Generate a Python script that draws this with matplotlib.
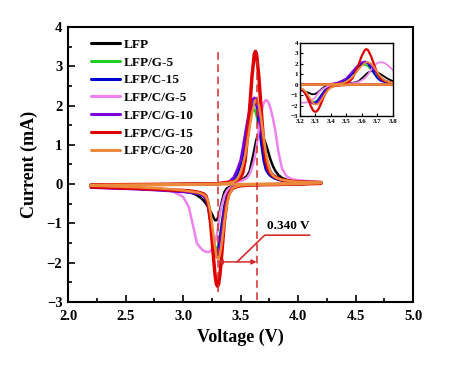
import matplotlib
matplotlib.use("Agg")
import matplotlib.pyplot as plt
from matplotlib.ticker import MultipleLocator, FormatStrFormatter

# ---------------- data ----------------
labels = ["LFP", "LFP/G-5", "LFP/C-15", "LFP/C/G-5", "LFP/C/G-10", "LFP/C/G-15", "LFP/C/G-20"]
colors = ["#000000", "#22cc22", "#0000d0", "#ee82ee", "#7a00dc", "#e00000", "#ec8a3c"]

v_anodic = [2.20, 2.60, 3.00, 3.30, 3.40, 3.44, 3.47, 3.50, 3.52, 3.54, 3.56, 3.58, 3.60, 3.62,
            3.63, 3.64, 3.66, 3.68, 3.70, 3.72, 3.74, 3.76, 3.78, 3.80, 3.83, 3.86, 3.90, 3.95,
            4.00, 4.10, 4.20]
v_cathodic = [4.20, 4.00, 3.80, 3.60, 3.50, 3.46, 3.43, 3.40, 3.38, 3.36, 3.34, 3.33, 3.32, 3.31,
              3.30, 3.29, 3.28, 3.27, 3.26, 3.24, 3.22, 3.20, 3.18, 3.15, 3.12, 3.10, 3.05, 3.00,
              2.90, 2.80, 2.60, 2.40, 2.20]

i_anodic_lfp = [-0.02, -0.01, 0.00, 0.00, 0.02, 0.05, 0.09, 0.11, 0.12, 0.17, 0.22, 0.33, 0.60, 0.87,
                1.02, 1.15, 1.29, 1.28, 1.18, 1.02, 0.83, 0.63, 0.47, 0.35, 0.23, 0.16, 0.11, 0.08,
                0.07, 0.05, 0.04]
i_anodic_g5 = [-0.02, -0.01, 0.00, 0.01, 0.04, 0.11, 0.25, 0.52, 0.75, 1.07, 1.39, 1.68, 1.86, 1.90,
               1.84, 1.74, 1.43, 1.09, 0.76, 0.51, 0.34, 0.25, 0.20, 0.16, 0.13, 0.10, 0.08, 0.07,
               0.06, 0.05, 0.05]
i_anodic_c15 = [-0.02, -0.01, 0.00, 0.01, 0.04, 0.12, 0.24, 0.49, 0.72, 1.05, 1.40, 1.73, 1.97, 2.09,
                2.10, 1.99, 1.55, 1.05, 0.62, 0.37, 0.27, 0.21, 0.17, 0.14, 0.11, 0.09, 0.08, 0.06,
                0.05, 0.05, 0.04]
i_anodic_cg5 = [-0.02, -0.01, 0.00, 0.01, 0.02, 0.04, 0.06, 0.08, 0.10, 0.13, 0.17, 0.26, 0.42, 0.62,
                0.78, 0.96, 1.42, 1.80, 2.06, 2.14, 2.10, 1.94, 1.70, 1.40, 0.82, 0.40, 0.20, 0.12,
                0.10, 0.07, 0.05]
i_anodic_cg10 = [-0.02, -0.01, 0.00, 0.01, 0.06, 0.17, 0.36, 0.60, 0.92, 1.27, 1.61, 1.91, 2.13, 2.20,
                 2.17, 2.09, 1.78, 1.40, 1.01, 0.70, 0.50, 0.33, 0.24, 0.20, 0.16, 0.12, 0.08, 0.07,
                 0.06, 0.05, 0.05]
i_anodic_cg15 = [-0.02, -0.01, 0.00, 0.01, 0.05, 0.06, 0.10, 0.15, 0.30, 0.60, 1.20, 1.95, 2.75, 3.31,
                 3.38, 3.30, 2.71, 1.88, 1.10, 0.60, 0.38, 0.28, 0.22, 0.18, 0.14, 0.11, 0.09, 0.07,
                 0.06, 0.05, 0.04]
i_anodic_cg20 = [-0.02, -0.01, 0.00, 0.01, 0.03, 0.06, 0.12, 0.29, 0.49, 0.73, 1.07, 1.46, 1.80, 2.06,
                 2.13, 2.15, 2.01, 1.65, 1.21, 0.81, 0.51, 0.32, 0.23, 0.18, 0.14, 0.11, 0.09, 0.07,
                 0.06, 0.05, 0.04]

i_cathodic_lfp = [0.02, 0.00, -0.01, -0.02, -0.03, -0.04, -0.05, -0.08, -0.11, -0.20, -0.42, -0.55,
                  -0.68, -0.80, -0.88, -0.92, -0.92, -0.88, -0.81, -0.70, -0.60, -0.50, -0.42, -0.34,
                  -0.28, -0.25, -0.20, -0.18, -0.15, -0.13, -0.10, -0.08, -0.07]
i_cathodic_g5 = [0.03, 0.00, -0.01, -0.02, -0.03, -0.05, -0.07, -0.16, -0.29, -0.54, -0.93, -1.13,
                 -1.34, -1.51, -1.61, -1.65, -1.62, -1.51, -1.34, -0.93, -0.57, -0.38, -0.30, -0.25,
                 -0.23, -0.22, -0.20, -0.18, -0.16, -0.14, -0.11, -0.09, -0.07]
i_cathodic_c15 = [0.03, 0.00, -0.01, -0.02, -0.03, -0.05, -0.07, -0.17, -0.30, -0.57, -0.98, -1.20,
                  -1.42, -1.60, -1.71, -1.75, -1.72, -1.60, -1.42, -0.98, -0.60, -0.40, -0.31, -0.26,
                  -0.24, -0.23, -0.21, -0.19, -0.17, -0.15, -0.12, -0.10, -0.08]
i_cathodic_cg5 = [0.03, 0.00, -0.01, -0.02, -0.03, -0.04, -0.06, -0.11, -0.18, -0.30, -0.50, -0.62,
                  -0.78, -0.98, -1.20, -1.34, -1.45, -1.55, -1.62, -1.70, -1.73, -1.72, -1.70, -1.62,
                  -1.50, -1.22, -0.58, -0.32, -0.17, -0.13, -0.09, -0.07, -0.05]
i_cathodic_cg10 = [0.03, 0.00, -0.01, -0.02, -0.03, -0.05, -0.08, -0.22, -0.39, -0.72, -1.16, -1.39,
                   -1.60, -1.76, -1.84, -1.84, -1.79, -1.61, -1.41, -0.94, -0.57, -0.38, -0.30, -0.26,
                   -0.24, -0.23, -0.21, -0.20, -0.18, -0.16, -0.13, -0.11, -0.09]
i_cathodic_cg15 = [0.02, 0.00, -0.01, -0.02, -0.04, -0.07, -0.11, -0.24, -0.47, -0.96, -1.66, -2.02,
                   -2.33, -2.54, -2.60, -2.54, -2.35, -2.04, -1.68, -0.99, -0.52, -0.30, -0.25, -0.22,
                   -0.20, -0.19, -0.17, -0.16, -0.15, -0.13, -0.11, -0.09, -0.07]
i_cathodic_cg20 = [0.03, 0.00, -0.01, -0.02, -0.03, -0.06, -0.10, -0.29, -0.55, -0.96, -1.43, -1.64,
                   -1.80, -1.89, -1.89, -1.84, -1.65, -1.44, -1.19, -0.74, -0.45, -0.32, -0.27, -0.23,
                   -0.21, -0.20, -0.18, -0.16, -0.13, -0.11, -0.08, -0.06, -0.04]

# flat orange baseline running across the whole window
v_flat = [2.20, 3.00, 3.50, 4.20]
i_flat = [-0.04, -0.02, 0.00, 0.03]

anodic = [i_anodic_lfp, i_anodic_g5, i_anodic_c15, i_anodic_cg5, i_anodic_cg10, i_anodic_cg15, i_anodic_cg20]
cathodic = [i_cathodic_lfp, i_cathodic_g5, i_cathodic_c15, i_cathodic_cg5, i_cathodic_cg10,
            i_cathodic_cg15, i_cathodic_cg20]
widths = [1.8, 1.8, 1.8, 1.8, 1.8, 2.5, 1.8]

# annotation values
v_red_ox = 3.64
v_red_red = 3.30
gap_label = "0.340 V"

# ---------------- figure ----------------
plt.rcParams['font.family'] = ['Liberation Serif', 'DejaVu Serif']
plt.rcParams['font.weight'] = 'bold'

fig = plt.figure(figsize=(4.51, 3.69), dpi=100)
ax = fig.add_axes([0.1508, 0.1816, 0.765, 0.7453])

for lab, col, ia, ic, lw in zip(labels, colors, anodic, cathodic, widths):
    ax.plot(v_anodic + v_cathodic, ia + ic, color=col, lw=lw, label=lab,
            solid_joinstyle='round', solid_capstyle='round')
ax.plot(v_flat, i_flat, color=colors[6], lw=1.8)

ax.set_xlim(2.0, 5.0)
ax.set_ylim(-3, 4)
ax.xaxis.set_major_locator(MultipleLocator(0.5))
ax.xaxis.set_minor_locator(MultipleLocator(0.25))
ax.yaxis.set_major_locator(MultipleLocator(1))
ax.yaxis.set_minor_locator(MultipleLocator(0.5))
ax.xaxis.set_major_formatter(FormatStrFormatter('%.1f'))
ax.tick_params(which='both', direction='in', top=False, right=False, width=1.2)
ax.tick_params(which='major', length=5, labelsize=10.5)
ax.tick_params(axis='x', which='major', pad=6)
ax.tick_params(axis='y', which='major', pad=4)
ax.tick_params(which='minor', length=3)
for s in ax.spines.values():
    s.set_linewidth(1.5)
ax.set_xlabel("Voltage (V)", fontsize=13, fontweight='bold', labelpad=4)
ax.set_ylabel("Current (mA)", fontsize=13, fontweight='bold', labelpad=6)

# dashed guides, arrow and label
red_ann = "#d42a2a"
ax.plot([v_red_red, v_red_red], [-2.75, 3.4], color=red_ann, lw=1.1, ls=(0, (5, 3)))
ax.plot([v_red_ox, v_red_ox], [-2.95, 3.3], color=red_ann, lw=1.1, ls=(0, (5, 3)))
ax.annotate("", xy=(v_red_red, -1.98), xytext=(v_red_ox, -1.98),
            arrowprops=dict(arrowstyle='<|-|>', color=red_ann, lw=1.1, mutation_scale=7,
                            shrinkA=0, shrinkB=0))
ax.plot([3.47, 3.71, 4.10], [-1.98, -1.30, -1.30], color=red_ann, lw=1.2)
ax.text(3.73, -1.22, gap_label, fontsize=9.5, fontweight='bold', ha='left', va='bottom')

leg = ax.legend(loc='upper left', bbox_to_anchor=(0.067, 0.958), frameon=False,
                fontsize=9.5, handlelength=2.2, handletextpad=0.3, labelspacing=0.42,
                borderpad=0, borderaxespad=0)
for t in leg.get_texts():
    t.set_fontweight('bold')
for h in leg.get_lines():
    h.set_linewidth(2.2)

# ---------------- inset ----------------
axin = fig.add_axes([0.6652, 0.6856, 0.2055, 0.1987])
for lab, col, ia, ic, lw in zip(labels, colors, anodic, cathodic, widths):
    axin.plot(v_anodic + v_cathodic, ia + ic, color=col, lw=1.3 if lw < 2 else 1.6)
axin.plot(v_flat, i_flat, color=colors[6], lw=1.5)
axin.set_xlim(3.2, 3.8)
axin.set_ylim(-3, 4)
axin.xaxis.set_major_locator(MultipleLocator(0.1))
axin.yaxis.set_major_locator(MultipleLocator(1))
axin.xaxis.set_major_formatter(FormatStrFormatter('%.1f'))
axin.tick_params(which='both', direction='in', labelsize=5, length=2, width=0.8)
axin.tick_params(axis='x', pad=2)
axin.tick_params(axis='y', pad=1.5)
for s in axin.spines.values():
    s.set_linewidth(1.0)

fig.savefig("out.png", dpi=100)
